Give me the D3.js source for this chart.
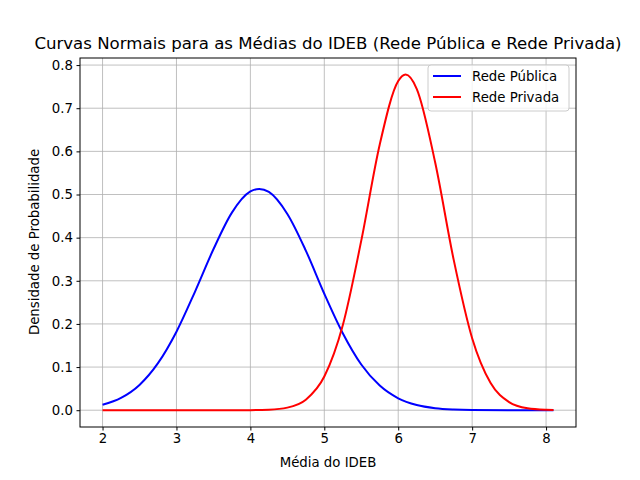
<!DOCTYPE html>
<html><head><meta charset="utf-8">
<script src="https://cdn.jsdelivr.net/npm/d3@7"></script>
<style>body{margin:0;background:#fff}text{font-family:"DejaVu Sans",sans-serif}</style>
</head><body><svg id="c" width="640" height="480"></svg>
<script>
const publicaX = [2,2.25,2.5,2.75,3,3.25,3.5,3.75,4,4.12,4.25,4.5,4.75,5,5.25,5.5,5.75,6,6.25,6.5,6.75,7,7.5,8.1];
const publicaY = [0.0125,0.0285,0.0586,0.109,0.182,0.2745,0.373,0.458,0.507,0.513,0.506,0.455,0.370,0.270,0.1785,0.106,0.0571,0.0277,0.0121,0.0048,0.0017,0.0005,0.0000,0.0000];
const privadaX = [2,3,3.5,4,4.25,4.5,4.75,5,5.25,5.5,5.75,6,6.1,6.25,6.5,6.75,7,7.25,7.5,7.75,8,8.1];
const privadaY = [0,0,0,0.0002,0.0012,0.006,0.0244,0.078,0.197,0.393,0.616,0.763,0.778,0.745,0.574,0.349,0.167,0.063,0.0188,0.0044,0.0008,0.0003];
const xTicks = [2,3,4,5,6,7,8];
const yTicks = [0,0.1,0.2,0.3,0.4,0.5,0.6,0.7,0.8];

const svg = d3.select("#c");
const L=80,R=576,T=58,B=427;
const x = d3.scaleLinear().domain([1.695,8.405]).range([L,R]);
const y = d3.scaleLinear().domain([-0.0389,0.8164]).range([B,T]);
const g = svg.append("g");
xTicks.forEach(t=>g.append("line").attr("x1",x(t)).attr("x2",x(t)).attr("y1",T).attr("y2",B).attr("stroke","#b0b0b0").attr("stroke-width",0.8));
yTicks.forEach(t=>g.append("line").attr("y1",y(t)).attr("y2",y(t)).attr("x1",L).attr("x2",R).attr("stroke","#b0b0b0").attr("stroke-width",0.8));
svg.append("g").attr("transform",`translate(0,${B})`).call(d3.axisBottom(x).tickValues(xTicks).tickFormat(d3.format("d")).tickSizeOuter(0).tickSize(3.5).tickPadding(3.5))
  .call(a=>{a.select(".domain").remove();a.selectAll("text").attr("font-size","13.3px").attr("font-family","DejaVu Sans");});
svg.append("g").attr("transform",`translate(${L},0)`).call(d3.axisLeft(y).tickValues(yTicks).tickFormat(d3.format(".1f")).tickSizeOuter(0).tickSize(3.5).tickPadding(3.5))
  .call(a=>{a.select(".domain").remove();a.selectAll("text").attr("font-size","13.3px").attr("font-family","DejaVu Sans");});
const line=d3.line().x(d=>x(d[0])).y(d=>y(d[1])).curve(d3.curveMonotoneX);
svg.append("path").datum(publicaX.map((v,i)=>[v,publicaY[i]])).attr("d",line).attr("fill","none").attr("stroke","blue").attr("stroke-width",2);
svg.append("path").datum(privadaX.map((v,i)=>[v,privadaY[i]])).attr("d",line).attr("fill","none").attr("stroke","red").attr("stroke-width",2);
svg.append("rect").attr("x",L).attr("y",T).attr("width",R-L).attr("height",B-T).attr("fill","none").attr("stroke","#000").attr("stroke-width",1);
svg.append("text").attr("x",(L+R)/2).attr("y",49).attr("text-anchor","middle").attr("font-size","16.6px").text("Curvas Normais para as Médias do IDEB (Rede Pública e Rede Privada)");
svg.append("text").attr("x",(L+R)/2).attr("y",467).attr("text-anchor","middle").attr("font-size","13.3px").text("Média do IDEB");
svg.append("text").attr("transform","translate(39,242) rotate(-90)").attr("text-anchor","middle").attr("font-size","13.3px").text("Densidade de Probabilidade");
const lg=svg.append("g");
lg.append("rect").attr("x",428).attr("y",65).attr("width",141).attr("height",46).attr("rx",3).attr("fill","#fff").attr("fill-opacity",0.8).attr("stroke","#ccc");
[["Rede Pública","blue"],["Rede Privada","red"]].forEach((s,i)=>{
  const yy=76+i*21;
  lg.append("line").attr("x1",433).attr("x2",461).attr("y1",yy).attr("y2",yy).attr("stroke",s[1]).attr("stroke-width",2);
  lg.append("text").attr("x",472).attr("y",yy+5).attr("font-size","13.3px").text(s[0]);
});
</script></body></html>
